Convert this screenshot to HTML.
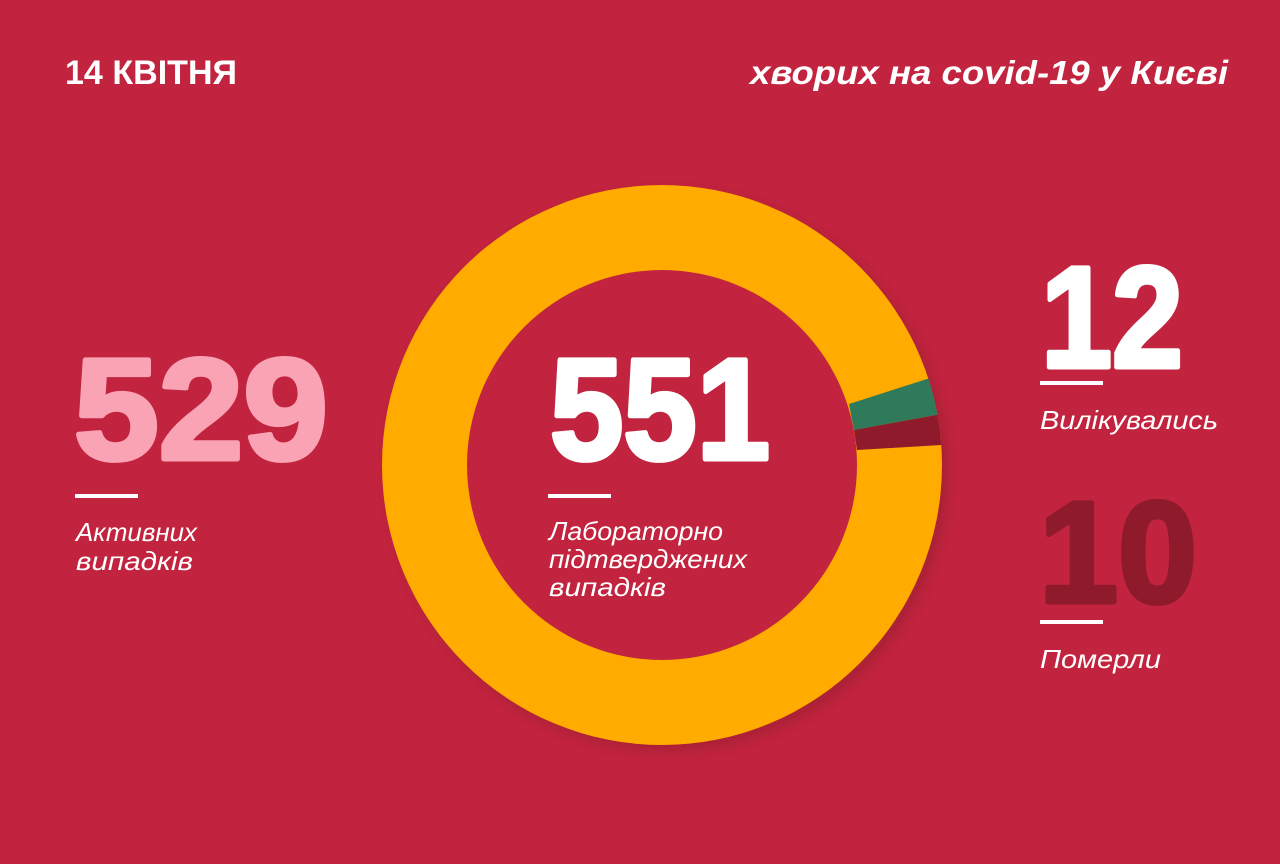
<!DOCTYPE html>
<html><head><meta charset="utf-8"><style>
html,body{margin:0;padding:0;background:#c2243f;}
svg{display:block}
text{font-family:"Liberation Sans","DejaVu Sans",sans-serif;}
</style></head><body>
<svg width="1280" height="864" viewBox="0 0 1280 864" xmlns="http://www.w3.org/2000/svg">
<defs>
<clipPath id="ring"><path clip-rule="evenodd" d="M662,185 a280,280 0 1,0 0.01,0 Z M662,270 a195,195 0 1,1 -0.01,0 Z"/></clipPath>
<filter id="sh" x="-20%" y="-20%" width="140%" height="140%"><feGaussianBlur stdDeviation="6"/></filter>
</defs>
<rect width="1280" height="864" fill="#c2243f"/>
<circle cx="668" cy="471" r="280" fill="#8a1a2c" opacity="0.45" filter="url(#sh)"/>
<circle cx="662" cy="465" r="280" fill="#ffab00"/>
<g clip-path="url(#ring)">
<polygon points="849,404 927,379 960,372 960,414 936,415 854,430" fill="#2e7a5a"/>
<polygon points="854,430 936,415 960,414 960,446 941,445 857,450" fill="#8e1a2b"/>
</g>
<circle cx="662" cy="465" r="195" fill="#c2243f"/>

<text x="65" y="84" font-size="34" font-weight="bold" fill="#fff" textLength="172" lengthAdjust="spacingAndGlyphs">14 КВІТНЯ</text>
<text x="750" y="84" font-size="33" font-weight="bold" font-style="italic" fill="#fff" textLength="478" lengthAdjust="spacingAndGlyphs">хворих на covid-19 у Києві</text>

<g stroke-width="5" stroke-linejoin="round">
<text x="74" y="459" font-size="144" font-weight="bold" fill="#f9a3b5" stroke="#f9a3b5" textLength="254" lengthAdjust="spacingAndGlyphs">529</text>
<text x="550" y="459" font-size="144" font-weight="bold" fill="#fff" stroke="#fff" textLength="220" lengthAdjust="spacingAndGlyphs">551</text>
<text x="1041" y="367" font-size="144" font-weight="bold" fill="#fff" stroke="#fff" textLength="142" lengthAdjust="spacingAndGlyphs">12</text>
<text x="1039" y="602" font-size="144" font-weight="bold" fill="#8e1a2b" stroke="#8e1a2b" textLength="158" lengthAdjust="spacingAndGlyphs">10</text>
</g>

<rect x="75" y="494" width="63" height="4" fill="#fff"/>
<text x="76" y="541" font-size="26" font-style="italic" fill="#fff" textLength="121" lengthAdjust="spacingAndGlyphs">Активних</text>
<text x="76" y="570" font-size="26" font-style="italic" fill="#fff" textLength="117" lengthAdjust="spacingAndGlyphs">випадків</text>

<rect x="548" y="494" width="63" height="4" fill="#fff"/>
<text x="549" y="540" font-size="26" font-style="italic" fill="#fff" textLength="174" lengthAdjust="spacingAndGlyphs">Лабораторно</text>
<text x="549" y="568" font-size="26" font-style="italic" fill="#fff" textLength="198" lengthAdjust="spacingAndGlyphs">підтверджених</text>
<text x="549" y="596" font-size="26" font-style="italic" fill="#fff" textLength="117" lengthAdjust="spacingAndGlyphs">випадків</text>

<rect x="1040" y="381" width="63" height="4" fill="#fff"/>
<text x="1040" y="429" font-size="26" font-style="italic" fill="#fff" textLength="178" lengthAdjust="spacingAndGlyphs">Вилікувались</text>

<rect x="1040" y="620" width="63" height="4" fill="#fff"/>
<text x="1040" y="668" font-size="26" font-style="italic" fill="#fff" textLength="121" lengthAdjust="spacingAndGlyphs">Померли</text>
</svg>
</body></html>
